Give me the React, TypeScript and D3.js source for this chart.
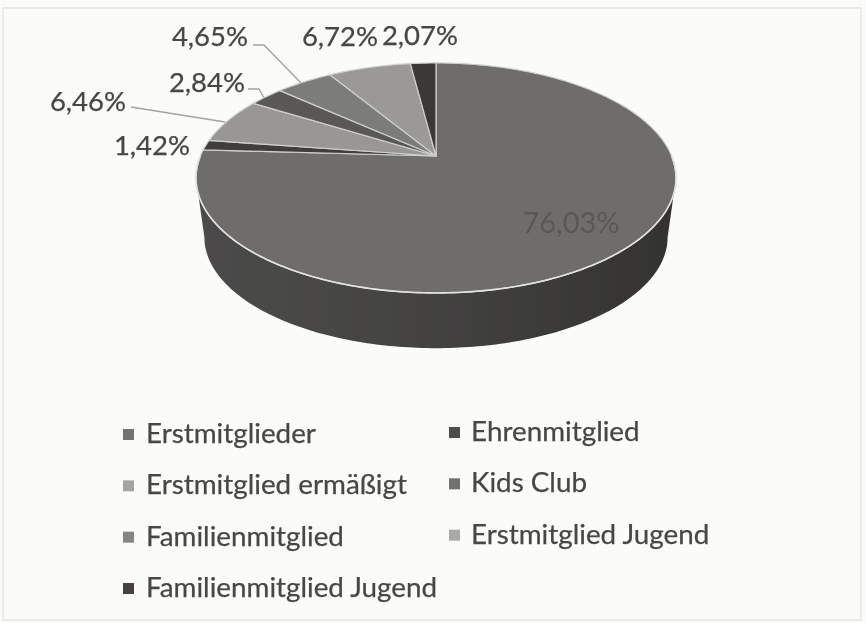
import React from "react";
import * as d3 from "d3";

const categories = ["Erstmitglieder","Familienmitglied Jugend","Erstmitglied ermäßigt","Ehrenmitglied","Familienmitglied","Erstmitglied Jugend","Kids Club"];
const shareValues = [76.03, 1.42, 6.46, 2.84, 4.65, 6.72, 2.07];
const shareLabels = ["76,03%","1,42%","6,46%","2,84%","4,65%","6,72%","2,07%"];
const sliceColors = ["#6e6d6a","#403e3c","#989795","#5a5856","#7c7b78","#9a9997","#3b3937"];
const legendColumnOne = ["Erstmitglieder","Erstmitglied ermäßigt","Familienmitglied","Familienmitglied Jugend"];
const legendColumnOneColors = ["#747371","#a5a4a2","#868583","#444341"];
const legendColumnTwo = ["Ehrenmitglied","Kids Club","Erstmitglied Jugend"];
const legendColumnTwoColors = ["#4f4d4b","#72716f","#aaa9a7"];

const W = 866, H = 623;
const cx = 436, cy = 156;
const persp = 0.191, A = 235.6, B = 110.8;

function project(theta: number, scale = 1, dy = 0): [number, number] {
  const u = Math.sin(theta), v = -Math.cos(theta);
  const w = 1 - persp * v;
  return [cx + (scale * A * u) / w, cy + dy + (scale * B * v) / w];
}
const line = d3.line<[number, number]>();
const samples = (a0: number, a1: number, scale = 1, dy = 0) => {
  const n = Math.max(4, Math.ceil(Math.abs(a1 - a0) * 60));
  return d3.range(n + 1).map((i) => project(a0 + ((a1 - a0) * i) / n, scale, dy));
};

const pie = d3.pie<number>().sort(null).value((d) => d)(shareValues);

const labelPos: [number, number][] = [[571,233],[152,155],[88,111],[207,92],[210,46],[340,46],[420,45]];
const leaders: Record<number, [number, number][]> = {
  2: [[131,107],[225,122]],
  3: [[248,89],[259,89],[264,98]],
  4: [[253,45],[264,45],[301,83]],
};

const rowY = d3.scaleLinear().domain([0, 3]).range([433, 587]);
const tangent = Math.acos(-persp);

export default function App() {
  const ink = "#474644";
  const sideTop = samples(tangent, 2 * Math.PI - tangent);
  const sideBottom = samples(2 * Math.PI - tangent, tangent, 0.965, 60);
  const front = samples(Math.PI / 2, Math.PI * 1.5);
  return (
    <svg width={W} height={H} viewBox={`0 0 ${W} ${H}`} style={{ position: "absolute", left: 0, top: 0, background: "#fbfbf9" }}>
      <defs>
        <linearGradient id="side" x1="0" x2="1" y1="0" y2="0">
          <stop offset="0" stopColor="#4c4b49" />
          <stop offset="0.5" stopColor="#434240" />
          <stop offset="1" stopColor="#343230" />
        </linearGradient>
        <filter id="soft" x="-5%" y="-5%" width="110%" height="110%">
          <feGaussianBlur stdDeviation="0.55" />
        </filter>
      </defs>
      <rect x={3} y={8} width={858} height={612} fill="none" stroke="#e6e6e3" strokeWidth={1.5} />
      <g filter="url(#soft)">
        <path d={`${line(sideTop)}L${sideBottom.map((p) => p.join(",")).join("L")}Z`} fill="url(#side)" />
        {pie.map((s, i) => (
          <path key={i} d={`M${cx},${cy}L${samples(s.startAngle, s.endAngle).map((p) => p.join(",")).join("L")}Z`}
            fill={sliceColors[i]} stroke="#cfcfcc" strokeWidth={1.2} strokeLinejoin="round" />
        ))}
        <path d={line(front) ?? ""} fill="none" stroke="#e4e4e1" strokeWidth={1.6} />
        {Object.values(leaders).map((pts, i) => (
          <path key={i} d={line(pts) ?? ""} fill="none" stroke="#a3a3a0" strokeWidth={1.4} />
        ))}
        <g fontFamily="Lato, 'Open Sans', sans-serif" stroke={ink} strokeWidth={0.25}>
          {shareLabels.map((t, i) => (
            <text key={t} x={labelPos[i][0]} y={labelPos[i][1]} textAnchor="middle" fontSize={i === 0 ? 29 : 27.5}
              fill={i === 0 ? "#5a5957" : ink} stroke={i === 0 ? "none" : ink}>{t}</text>
          ))}
          {legendColumnOne.map((t, i) => (
            <g key={t} fontSize={27.8}>
              <rect x={123} y={rowY(i) - 4} width={11} height={11} fill={legendColumnOneColors[i]} stroke="none" />
              <text x={146} y={rowY(i) + 10} fill={ink}>{t}</text>
            </g>
          ))}
          {legendColumnTwo.map((t, i) => (
            <g key={t} fontSize={27.8}>
              <rect x={449} y={rowY(i) - 6} width={11} height={11} fill={legendColumnTwoColors[i]} stroke="none" />
              <text x={471} y={rowY(i) + 8} fill={ink}>{t}</text>
            </g>
          ))}
        </g>
      </g>
    </svg>
  );
}
